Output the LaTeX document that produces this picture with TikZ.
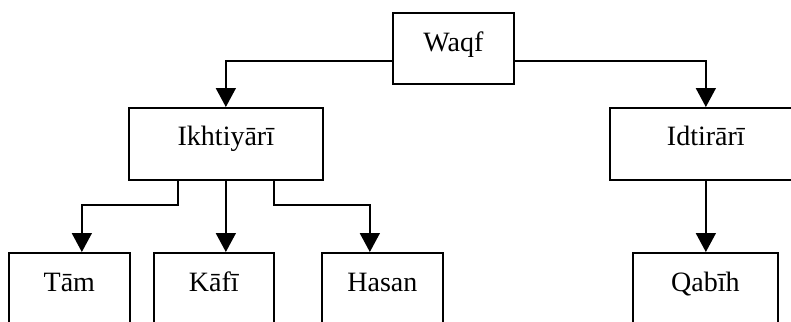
\documentclass[tikz,border=0pt]{standalone}
\usepackage{fontspec}
\setmainfont{Liberation Serif}
\usetikzlibrary{arrows.meta}

\tikzset{
  box/.style={draw, line width=1.7bp, inner sep=0pt, anchor=north west,
    font=\fontsize{28bp}{32bp}\selectfont, text height=39bp},
  topbox/.style={box, text depth=32bp},
  midbox/.style={box, text height=38bp, text depth=34bp},
  leafbox/.style={box, text depth=60bp},
  link/.style={line width=1.7bp, -{Triangle[width=20bp,length=19bp]}},
}

\begin{document}
\begin{tikzpicture}[x=1bp, y=-1bp]
  \useasboundingbox (0,0) rectangle (791,321);
  \clip (0,0) rectangle (791,321);

  % top level
  \node[topbox, minimum width=121bp] (waqf) at (392,12) {Waqf};

  % second level
  \node[midbox, minimum width=194bp] (ikh) at (128,107) {Ikhtiyārī};
  \node[midbox, minimum width=192bp] (idt) at (609,107) {Idtirārī};

  % leaves
  \node[leafbox, minimum width=121bp] (tam) at (8,252) {Tām};
  \node[leafbox, minimum width=120bp] (kafi) at (153,252) {Kāfī};
  \node[leafbox, minimum width=121bp] (hasan) at (321,252) {Hasan};
  \node[leafbox, minimum width=145bp] (qabih) at (632,252) {Qabīh};

  % connectors from Waqf
  \draw[link] ([yshift=-12.5bp]waqf.west) -| (ikh.north);
  \draw[link] ([yshift=-12.5bp]waqf.east) -| (idt.north);

  % connectors below Ikhtiyari
  \draw[link] ([xshift=-48bp]ikh.south) -- ++(0,24) -| ([xshift=12.5bp]tam.north);
  \draw[link] (ikh.south) -- (ikh.south |- kafi.north);
  \draw[link] ([xshift=48bp]ikh.south) -- ++(0,24) -| ([xshift=-12.5bp]hasan.north);

  % connector below Idtirari
  \draw[link] (idt.south) -- (idt.south |- qabih.north);
\end{tikzpicture}
\end{document}
